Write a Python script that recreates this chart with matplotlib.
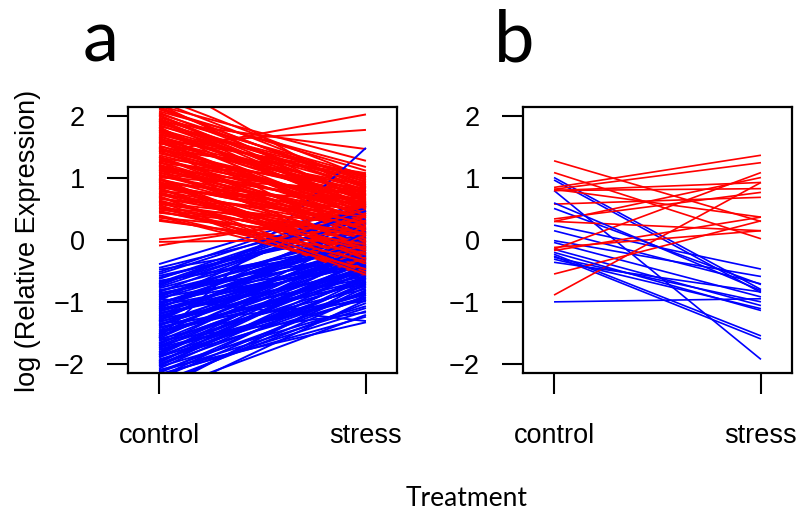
import matplotlib
matplotlib.use("Agg")
import matplotlib.pyplot as plt
from itertools import zip_longest

# panel a: genes up in control (red) and down in control (blue)
a_red_control = [2.62, 2.31, 2.24, 2.19, 2.17, 2.13, 2.11, 2.06, 2.04, 2.01,
                 1.98, 1.96, 1.93, 1.91, 1.89, 1.86, 1.84, 1.81, 1.79, 1.77,
                 1.74, 1.72, 1.69, 1.67, 1.64, 1.63, 1.60, 1.57, 1.55, 1.53,
                 1.51, 1.49, 1.46, 1.44, 1.42, 1.40, 1.37, 1.35, 1.33, 1.31,
                 1.28, 1.26, 1.24, 1.21, 1.19, 1.17, 1.14, 1.12, 1.10, 1.08,
                 1.06, 1.03, 1.01, 0.99, 0.97, 0.94, 0.92, 0.90, 0.87, 0.85,
                 0.83, 0.80, 0.78, 0.76, 0.73, 0.71, 0.68, 0.66, 0.63, 0.60,
                 0.57, 0.54, 0.51, 0.47, 0.44, 0.40, 0.36, 0.31, 0.01, -0.03,
                 -0.09, 2.08, 1.95, 1.70, 1.58, 1.45, 1.22, 1.15, 0.95, 0.88,
                 1.92, 1.83, 1.75, 1.66, 1.59, 1.50, 1.41, 1.34, 1.27, 1.20,
                 1.13, 1.05, 0.98, 0.91, 0.84, 0.77, 0.70, 0.64, 0.58, 0.52,
                 0.45, 0.38, 2.15, 2.02, 1.88, 1.78, 1.62, 1.47, 1.30, 1.16,
                 1.00, 0.86, 0.74, 0.62, 0.49, 0.33]
a_red_stress = [0.72, 1.02, 0.93, 0.61, 1.28, 0.88, 1.12, 0.79, 0.97, 0.55,
                1.05, 0.84, 0.68, 1.47, 0.91, 0.74, 1.01, 0.47, 0.86, 0.63,
                0.95, 0.71, 0.38, 0.82, 0.58, 1.08, 0.66, 0.77, 1.78, 0.44,
                0.89, 0.52, 0.69, 0.31, 2.03, 0.75, 0.57, 0.18, 0.83, 0.42,
                0.64, 0.27, 0.92, 0.49, 0.06, 0.71, 0.35, 0.56, -0.08, 0.62,
                0.22, 0.45, 0.81, 0.12, 0.39, -0.21, 0.58, 0.26, 0.03, 0.48,
                -0.33, 0.19, 0.67, -0.05, 0.33, -0.44, 0.09, 0.41, -0.15, 0.24,
                -0.58, -0.02, 0.29, -0.27, 0.14, -0.38, 0.05, -0.12, 0.32, 0.01,
                0.46, 1.18, 0.52, 0.99, 0.36, 1.07, 0.15, 0.73, -0.48, 0.28,
                0.42, 0.13, 0.56, -0.04, 0.29, -0.18, 0.51, 0.07, -0.29, 0.36,
                -0.11, 0.17, -0.39, 0.21, -0.24, 0.02, -0.52, -0.16, 0.11, -0.35,
                -0.07, -0.47, 0.85, 0.65, 1.03, 0.53, 0.78, 0.40, 0.60, 0.25,
                -0.31, 0.37, -0.13, -0.56, 0.08, -0.21]

a_blue_control = [-0.39, -0.45, -0.52, -0.58, -0.63, -0.67, -0.71, -0.74, -0.78, -0.81,
                  -0.84, -0.87, -0.90, -0.93, -0.95, -0.98, -1.01, -1.03, -1.06, -1.08,
                  -1.11, -1.13, -1.16, -1.18, -1.21, -1.23, -1.26, -1.28, -1.31, -1.33,
                  -1.36, -1.38, -1.41, -1.43, -1.46, -1.49, -1.52, -1.55, -1.58, -1.60,
                  -1.63, -1.66, -1.69, -1.72, -1.75, -1.78, -1.81, -1.84, -1.87, -1.90,
                  -1.93, -1.96, -1.99, -2.02, -2.05, -2.08, -2.12, -2.15, -2.19, -2.24,
                  -2.30, -2.38, -2.45, -2.55, -0.95, -1.62, -1.35, -0.61, -0.83, -1.05,
                  -1.24, -1.47, -1.71, -1.89, -2.01, -0.72, -1.15, -1.56, -1.82, -2.10,
                  -0.48, -0.55, -0.66, -0.76, -0.86, -0.92, -1.00, -1.09, -1.19, -1.29,
                  -1.39, -1.50, -1.59, -1.67, -1.77, -1.86, -1.95, -2.04, -2.13, -2.22,
                  -2.35, -0.69, -0.89, -1.12, -1.32, -1.53, -1.74, -1.97, -2.17, -2.42]
a_blue_stress = [0.61, 0.38, 0.62, 0.15, 0.47, -0.05, 0.29, 0.58, 0.08, -0.22,
                 0.41, -0.11, 0.19, -0.36, 0.03, 0.55, -0.18, 0.12, -0.42, -0.02,
                 0.33, -0.27, -0.09, -0.51, 0.06, -0.31, -0.14, -0.62, 0.22, -0.24,
                 -0.45, -0.07, -0.71, -0.33, -0.16, -0.55, 0.01, -0.38, 1.49, -0.79,
                 -0.26, -0.48, -0.12, -0.66, -0.35, -0.88, -0.52, -0.21, -0.74, -0.43,
                 -0.95, -0.61, -0.29, -0.83, -1.07, -0.57, -0.92, -0.68, -1.15, -0.81,
                 -1.02, -0.76, -1.21, -0.97, -1.31, -1.17, -0.99, 0.26, -0.01, 0.11,
                 -0.19, -0.64, -0.41, -0.86, -0.59, 0.44, -0.37, -0.23, -0.47, -1.33,
                 0.09, 0.52, -0.14, 0.35, -0.28, 0.18, -0.39, 0.04, -0.53, 0.27,
                 -0.20, -0.68, -0.10, -0.44, -0.85, -0.31, -0.72, -0.49, -1.10, -0.62,
                 -0.89, 0.47, -0.06, -0.25, -0.58, 0.13, -0.93, -0.40, -1.24, -0.70]

# panel b
b_red_control = [1.28, 1.09, 0.85, 0.82, 0.80, 0.80, 0.58, 0.34, 0.30,
                 -0.12, -0.15, -0.17, -0.55, -0.89, 0.82, 0.30]
b_red_stress = [0.30, 0.02, 1.37, 1.25, 0.83, 0.93, 0.69, 0.77, 1.01,
                0.15, 1.09, 0.37, 0.31, 0.93, 0.37, 0.15]

b_blue_control = [1.01, 0.97, 0.80, 0.51, 0.24, 0.15, -0.01, -0.04, -0.15,
                  -0.23, -0.26, -0.28, -0.31, -0.36, -1.00, 0.60, -0.20]
b_blue_stress = [-0.80, -0.85, -1.93, -0.72, -0.47, -0.71, -0.59, -0.92, -1.06,
                 -1.55, -1.60, -1.00, -1.11, -0.84, -0.95, -0.82, -1.14]

treatments = ["control", "stress"]

tick_font = "Liberation Sans"
label_font = "Lato"

fig = plt.figure(figsize=(8.01, 5.12), dpi=100)

def draw_panel(ax, red_c, red_s, blue_c, blue_s, lw):
    # genes drawn interleaved, so neither colour sits fully on top
    reds = list(zip(red_c, red_s))
    blues = list(zip(blue_c, blue_s))
    for r, b in zip_longest(reds, blues):
        if r is not None:
            ax.plot([1, 2], r, color="red", lw=lw, solid_capstyle="butt")
        if b is not None:
            ax.plot([1, 2], b, color="blue", lw=lw, solid_capstyle="butt")
    ax.set_xlim(0.85, 2.15)
    ax.set_ylim(-2.15, 2.15)
    ax.set_xticks([1, 2])
    ax.set_xticklabels(treatments, fontfamily=tick_font, fontsize=19.5)
    ax.set_yticks([-2, -1, 0, 1, 2])
    ax.set_yticklabels(["\u22122", "\u22121", "0", "1", "2"],
                       fontfamily=tick_font, fontsize=19.5)
    ax.tick_params(axis="both", direction="out", length=15, width=1.5)
    ax.tick_params(axis="x", pad=21)
    ax.tick_params(axis="y", pad=16)
    for sp in ax.spines.values():
        sp.set_linewidth(1.6)

ax_a = fig.add_axes([128 / 801, 139 / 512, 269 / 801, 266 / 512])
draw_panel(ax_a, a_red_control, a_red_stress, a_blue_control, a_blue_stress, 1.4)

ax_b = fig.add_axes([523 / 801, 139 / 512, 269 / 801, 266 / 512])
draw_panel(ax_b, b_red_control, b_red_stress, b_blue_control, b_blue_stress, 1.2)

fig.text(101 / 801, 1 - 62 / 512, "a", fontfamily=label_font, fontsize=52,
         ha="center", va="baseline")
fig.text(514 / 801, 1 - 62 / 512, "b", fontfamily=label_font, fontsize=52,
         ha="center", va="baseline")

fig.text(28 / 801, 1 - 241 / 512, "log (Relative Expression)",
         fontfamily=tick_font, fontsize=19.5, rotation=90,
         ha="center", va="center")
fig.text(467 / 801, 1 - 499 / 512, "Treatment", fontfamily=label_font,
         fontsize=19, ha="center", va="center")

fig.savefig("out.png", dpi=100)
